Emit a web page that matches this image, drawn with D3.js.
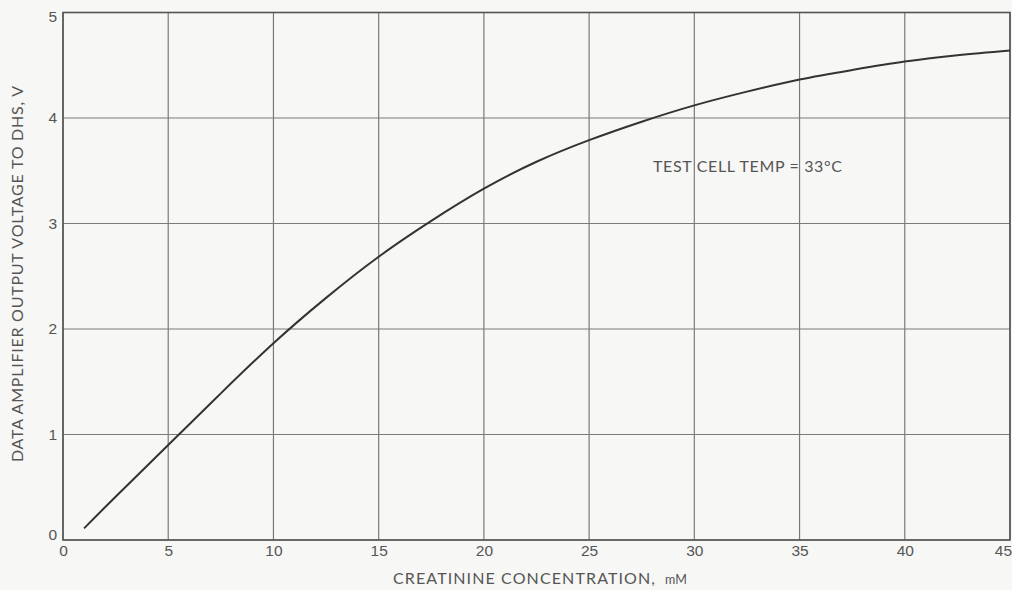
<!DOCTYPE html>
<html>
<head>
<meta charset="utf-8">
<script src="https://cdn.jsdelivr.net/npm/d3@7"></script>
<style>
  html, body { margin: 0; padding: 0; background: #f7f7f5; }
  svg { display: block; font-family: Lato, "Open Sans", sans-serif; }
</style>
</head>
<body>
<svg id="chart" width="1012" height="590"></svg>
<script>
// ---- data ----
const concentration = [1, 2.5, 5, 7.5, 10, 12.5, 15, 17.5, 20, 22.5, 25, 27.5, 30, 32.5, 35, 37.5, 40, 42.5, 45];
const voltage       = [0.11, 0.41, 0.90, 1.39, 1.865, 2.295, 2.685, 3.025, 3.33, 3.585, 3.79, 3.965, 4.12, 4.25, 4.365, 4.455, 4.535, 4.595, 4.64];
const xTicks = [0, 5, 10, 15, 20, 25, 30, 35, 40, 45];
const yTicks = [0, 1, 2, 3, 4, 5];
const xTitle = "CREATININE CONCENTRATION,";
const xUnit = "mM";
const yTitle = "DATA AMPLIFIER OUTPUT VOLTAGE TO DHS, V";
const annotation = "TEST CELL TEMP = 33°C";

// ---- layout ----
const svg = d3.select("#chart");
const plotLeft = 63, plotRight = 1010, plotTop = 12.5, plotBottom = 540;
const x = d3.scaleLinear().domain([0, 45]).range([plotLeft, plotRight]);
const y = d3.scaleLinear().domain([0, 5]).range([plotBottom, plotTop]);

const gridColor = "#7a7a7a";
const textColor = "#555";

// vertical grid
svg.append("g").selectAll("line").data(xTicks).join("line")
  .attr("x1", d => x(d)).attr("x2", d => x(d))
  .attr("y1", plotTop).attr("y2", plotBottom)
  .attr("stroke", gridColor).attr("stroke-width", 1.2);
// horizontal grid
svg.append("g").selectAll("line").data(yTicks).join("line")
  .attr("x1", plotLeft).attr("x2", plotRight)
  .attr("y1", d => y(d)).attr("y2", d => y(d))
  .attr("stroke", gridColor).attr("stroke-width", 1.2);
// frame
svg.append("rect").attr("x", plotLeft).attr("y", plotTop)
  .attr("width", plotRight - plotLeft).attr("height", plotBottom - plotTop)
  .attr("fill", "none").attr("stroke", "#555").attr("stroke-width", 1.6);

// axes (labels only)
const xAxis = d3.axisBottom(x).tickValues(xTicks).tickFormat(d3.format("d")).tickSize(0).tickPadding(5);
const gx = svg.append("g").attr("transform", `translate(0,${plotBottom})`).call(xAxis);
gx.select(".domain").remove();
gx.selectAll("text").attr("fill", textColor).style("font-size", "15.5px")
  .attr("text-anchor", d => d === 45 ? "end" : "middle")
  .attr("dx", d => d === 45 ? "0.1em" : 0);

const yAxis = d3.axisLeft(y).tickValues(yTicks).tickFormat(d3.format("d")).tickSize(0).tickPadding(6);
const gy = svg.append("g").attr("transform", `translate(${plotLeft},0)`).call(yAxis);
gy.select(".domain").remove();
gy.selectAll("text").attr("fill", textColor).style("font-size", "15.5px")
  .attr("dy", (d) => d === 0 ? "-0.05em" : d === 5 ? "0.55em" : "0.32em");

// curve
const line = d3.line()
  .x((d, i) => x(concentration[i]))
  .y(d => y(d))
  .curve(d3.curveNatural);
svg.append("path").datum(voltage)
  .attr("d", line)
  .attr("fill", "none").attr("stroke", "#333").attr("stroke-width", 2);

// annotation
svg.append("text").attr("x", 653).attr("y", 172)
  .attr("fill", textColor).style("font-size", "16px")
  .attr("textLength", 189).attr("lengthAdjust", "spacing")
  .text(annotation);

// x title
const xt = svg.append("text").attr("x", 393).attr("y", 584)
  .attr("fill", textColor).style("font-size", "16px");
xt.append("tspan").attr("textLength", 262).attr("lengthAdjust", "spacing").text(xTitle);
xt.append("tspan").attr("dx", 9).style("font-size", "12.5px").text(xUnit);

// y title
svg.append("text")
  .attr("transform", `translate(23,${(86 + 462) / 2}) rotate(-90)`)
  .attr("text-anchor", "middle")
  .attr("fill", textColor).style("font-size", "16px")
  .attr("textLength", 376).attr("lengthAdjust", "spacing")
  .text(yTitle);
</script>
</body>
</html>
